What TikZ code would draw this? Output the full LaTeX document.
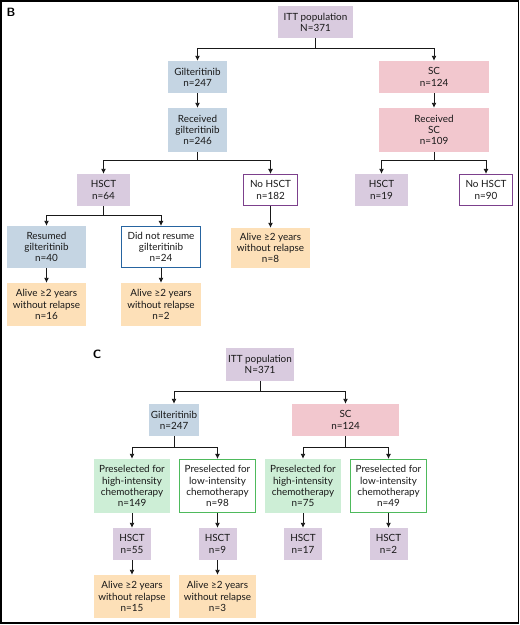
\documentclass[tikz,border=0pt]{standalone}
\usepackage{fontspec}
\setmainfont{Lato}
\usepackage{tikz}
\usetikzlibrary{arrows.meta,positioning}
\definecolor{hsctfill}{RGB}{217,203,223}
\definecolor{giltfill}{RGB}{197,213,227}
\definecolor{scfill}{RGB}{242,199,206}
\definecolor{alivefill}{RGB}{253,224,184}
\definecolor{highfill}{RGB}{205,238,214}
\definecolor{purpleline}{RGB}{124,64,140}
\definecolor{blueline}{RGB}{38,100,160}
\definecolor{greenline}{RGB}{78,186,92}

\begin{document}
\begin{tikzpicture}[
  x=1pt,y=-1pt,
  >={Latex[length=5pt,width=5pt]},
  box/.style={minimum width=#1,inner sep=1pt,align=center,font=\fontsize{9.9}{11.2}\selectfont,text=black!90},
  box/.default=55pt,
  itt/.style={box=#1,fill=hsctfill},
  hsct/.style={box=#1,fill=hsctfill,minimum height=32pt},
  nohsct/.style={box=#1,draw=purpleline,line width=1.1pt,fill=white,minimum height=31pt},
  gilt/.style={box=#1,fill=giltfill},
  sc/.style={box=#1,fill=scfill},
  noresume/.style={box=#1,draw=blueline,line width=1.1pt,fill=white},
  alive/.style={box=#1,fill=alivefill,minimum height=43pt},
  hifill/.style={box=#1,fill=highfill,minimum height=54pt},
  lowline/.style={box=#1,draw=greenline,line width=1.1pt,fill=white,minimum height=53pt},
  panel/.style={font=\sffamily\bfseries\large},
  arrow/.style={->,draw=black!90,line width=0.9pt}
]
\useasboundingbox (0,0) rectangle (520,625);
\draw[line width=1.6pt] (0.8,0.8) rectangle (518.4,623);

% panel B
\node[panel] (labB) at (11,12) {B};
\node[itt=75pt,minimum height=32pt] (ittB) at (315.5,22) {ITT population\\N=371};
\node[gilt=59pt,minimum height=32pt] (giltB) at (197.5,77) {Gilteritinib\\n=247};
\node[sc=110pt,minimum height=32pt] (scB) at (434,77) {SC\\n=124};
\node[gilt=59pt,minimum height=44pt] (recgB) at (197.5,130) {Received\\gilteritinib\\n=246};
\node[sc=110pt,minimum height=44pt] (recsB) at (434,130) {Received\\SC\\n=109};
\node[hsct=53pt] (hsctgB) at (103.5,190) {HSCT\\n=64};
\node[nohsct=54pt] (nohsctgB) at (270.5,190) {No HSCT\\n=182};
\node[hsct=53pt] (hsctsB) at (381.5,190) {HSCT\\n=19};
\node[nohsct=53pt] (nohsctsB) at (486,190) {No HSCT\\n=90};
\node[gilt=79pt,minimum height=42pt] (resB) at (46.5,247) {Resumed\\gilteritinib\\n=40};
\node[noresume=79pt,minimum height=41pt] (didB) at (161,247) {Did not resume\\gilteritinib\\n=24};
\node[alive=79pt,minimum height=40pt] (alnoB) at (270.5,248) {Alive ≥2 years\\without relapse\\n=8};
\node[alive=79pt] (alresB) at (46.5,304.5) {Alive ≥2 years\\without relapse\\n=16};
\node[alive=80pt] (aldidB) at (161,304.5) {Alive ≥2 years\\without relapse\\n=2};

\draw[arrow] (ittB.south) -- ++(0,10) -| (giltB.north);
\draw[arrow] (ittB.south) -- ++(0,10) -| (scB.north);
\draw[arrow] (giltB) -- (recgB);
\draw[arrow] (scB) -- (recsB);
\draw[arrow] (recgB.south) -- ++(0,8) -| (hsctgB.north);
\draw[arrow] (recgB.south) -- ++(0,8) -| (nohsctgB.north);
\draw[arrow] (recsB.south) -- ++(0,8) -| (hsctsB.north);
\draw[arrow] (recsB.south) -- ++(0,8) -| (nohsctsB.north);
\draw[arrow] (hsctgB.south) -- ++(0,9) -| (resB.north);
\draw[arrow] (hsctgB.south) -- ++(0,9) -| (didB.north);
\draw[arrow] (nohsctgB) -- (alnoB);
\draw[arrow] (resB) -- (alresB);
\draw[arrow] (didB) -- (aldidB);

% panel C
\node[panel] (labC) at (97,354) {C};
\node[itt=68pt,minimum height=33pt] (ittC) at (260,364.5) {ITT population\\N=371};
\node[gilt=50pt,minimum height=32pt] (giltC) at (174,420) {Gilteritinib\\n=247};
\node[sc=107pt,minimum height=32pt] (scC) at (345.5,420) {SC\\n=124};
\node[hifill=76pt] (hiG) at (132,486) {Preselected for\\high-intensity\\chemotherapy\\n=149};
\node[lowline=76pt] (loG) at (217.5,486) {Preselected for\\low-intensity\\chemotherapy\\n=98};
\node[hifill=76pt] (hiS) at (303,486) {Preselected for\\high-intensity\\chemotherapy\\n=75};
\node[lowline=76pt] (loS) at (388.5,486) {Preselected for\\low-intensity\\chemotherapy\\n=49};
\node[hsct=38pt] (hsctHG) at (132,544) {HSCT\\n=55};
\node[hsct=38pt] (hsctLG) at (217.5,544) {HSCT\\n=9};
\node[hsct=38pt] (hsctHS) at (303,544) {HSCT\\n=17};
\node[hsct=38pt] (hsctLS) at (388.5,544) {HSCT\\n=2};
\node[alive=76pt] (alHG) at (132,596.5) {Alive ≥2 years\\without relapse\\n=15};
\node[alive=77pt] (alLG) at (217.5,596.5) {Alive ≥2 years\\without relapse\\n=3};

\draw[arrow] (ittC.south) -- ++(0,10) -| (giltC.north);
\draw[arrow] (ittC.south) -- ++(0,10) -| (scC.north);
\draw[arrow] (giltC.south) -- ++(0,11) -| (hiG.north);
\draw[arrow] (giltC.south) -- ++(0,11) -| (loG.north);
\draw[arrow] (scC.south) -- ++(0,11) -| (hiS.north);
\draw[arrow] (scC.south) -- ++(0,11) -| (loS.north);
\foreach \up/\dn in {hiG/hsctHG,loG/hsctLG,hiS/hsctHS,loS/hsctLS,hsctHG/alHG,hsctLG/alLG}
  \draw[arrow] (\up) -- (\dn);
\end{tikzpicture}
\end{document}
